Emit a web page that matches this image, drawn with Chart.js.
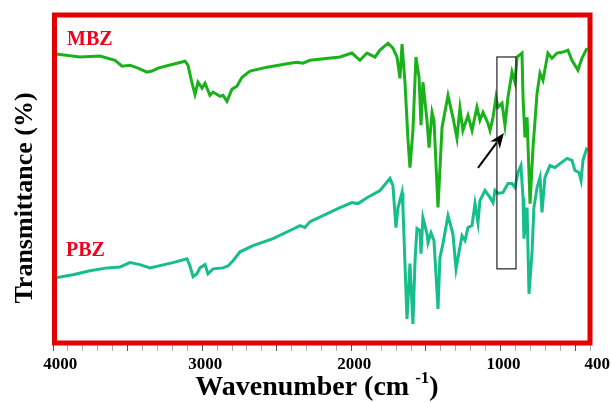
<!DOCTYPE html>
<html>
<head>
<meta charset="utf-8">
<script src="https://cdn.jsdelivr.net/npm/chart.js@4.4.0/dist/chart.umd.min.js"></script>
<style>
  html, body { margin: 0; padding: 0; background: #fff; }
</style>
</head>
<body>
<canvas id="ftirChart" width="611" height="403"></canvas>
<script>
// FTIR spectra, wavenumber in cm-1, transmittance in arbitrary %
var mbzWavenumber = [4000, 3980, 3819, 3685, 3584, 3537, 3484, 3430, 3370, 3336, 3296, 3196, 3115, 3095, 3068, 3048, 3028, 3001, 2981, 2948,
    2927, 2880, 2860, 2834, 2800, 2767, 2733, 2679, 2565, 2411, 2364, 2324, 2277, 2076, 1996, 1942, 1895, 1841, 1808, 1754,
    1721, 1694, 1674, 1660, 1640, 1620, 1607, 1587, 1567, 1546, 1533, 1520, 1493, 1479, 1459, 1446, 1419, 1392, 1352, 1319,
    1292, 1272, 1252, 1218, 1191, 1158, 1138, 1117, 1084, 1070, 1050, 1030, 1017, 990, 970, 950, 923, 903, 889, 856,
    849, 836, 822, 802, 782, 755, 735, 715, 682, 655, 621, 581, 548, 521, 481, 454, 420];
var mbzTransmittance = [88.2, 88.1, 87.2, 87.5, 86.2, 84.4, 84.7, 83.8, 82.6, 82.9, 83.8, 85.0, 85.9, 84.7, 79.2, 75.8, 79.5, 77.7, 79.2, 75.5,
    76.5, 75.2, 75.5, 73.7, 77.4, 78.3, 81.0, 82.9, 84.1, 85.3, 85.6, 85.3, 86.2, 87.2, 88.4, 86.2, 88.4, 87.2, 89.3, 91.4,
    89.9, 87.2, 80.7, 91.1, 79.2, 61.8, 53.5, 64.8, 87.2, 81.0, 66.4, 79.5, 67.9, 59.6, 70.3, 67.9, 41.3, 65.7, 75.5, 68.8,
    62.4, 71.6, 64.8, 69.4, 64.8, 71.9, 67.9, 70.3, 67.0, 64.8, 68.8, 74.9, 71.9, 73.1, 66.4, 74.9, 82.6, 79.5, 87.2, 88.4,
    74.9, 62.7, 68.8, 42.5, 59.6, 76.1, 82.3, 80.1, 88.4, 86.8, 88.4, 88.7, 89.3, 86.2, 83.2, 86.8, 89.9];

var pbzWavenumber = [4000, 3980, 3866, 3752, 3638, 3551, 3484, 3417, 3350, 3196, 3102, 3082, 3061, 3035, 3015, 2981, 2961, 2927, 2860, 2827,
    2793, 2746, 2659, 2525, 2411, 2344, 2311, 2277, 2076, 1996, 1955, 1895, 1808, 1741, 1721, 1701, 1687, 1660, 1654, 1627,
    1607, 1587, 1573, 1560, 1540, 1533, 1520, 1493, 1486, 1466, 1446, 1419, 1406, 1386, 1352, 1319, 1298, 1285, 1258, 1238,
    1218, 1191, 1171, 1151, 1138, 1104, 1070, 1050, 1037, 1017, 983, 950, 923, 903, 883, 863, 849, 843, 822, 809,
    789, 776, 755, 735, 722, 702, 668, 635, 601, 554, 521, 501, 474, 460, 447, 420];
var pbzTransmittance = [19.7, 19.9, 20.8, 22.0, 22.9, 23.2, 24.5, 23.9, 22.9, 24.5, 25.7, 23.5, 20.2, 21.1, 22.9, 23.9, 21.1, 22.6, 22.9, 23.5,
    25.1, 27.8, 29.7, 31.8, 34.3, 35.8, 35.2, 37.0, 41.3, 42.8, 42.5, 44.3, 46.5, 50.2, 48.0, 35.2, 41.3, 45.9, 41.3, 7.3,
    24.2, 5.8, 25.1, 34.9, 34.3, 27.2, 38.2, 33.3, 30.6, 33.6, 31.2, 10.4, 26.0, 30.3, 38.8, 33.3, 22.6, 26.0, 32.7, 31.2,
    35.2, 35.8, 42.5, 36.7, 43.4, 46.5, 44.3, 42.8, 46.5, 45.6, 45.9, 48.6, 48.6, 47.4, 52.0, 54.1, 44.3, 31.8, 41.3, 15.0,
    27.2, 41.3, 47.4, 50.5, 39.8, 50.5, 54.1, 53.5, 54.7, 56.3, 55.7, 52.6, 52.0, 49.5, 55.7, 59.6];

var xTickLabels = [4000, 3000, 2000, 1000, 400];

// annotations, in data units
var mbzLabelAt = [3906, 90.9];
var pbzLabelAt = [3913, 26.5];
var boxCorners = [1024, 87.2, 896, 22.6];
var arrowFrom = [1151, 53.4];
var arrowTo = [977, 64.0];

var serif = '"Liberation Serif", "Times New Roman", serif';
var frameRed = 'rgb(228, 0, 0)';
var labelRed = 'rgb(240, 0, 28)';

var toPoints = function (xs, ys) {
    var pts = [];
    for (var i = 0; i < xs.length; i++) {
        pts.push({ x: xs[i], y: ys[i] });
    }
    return pts;
};

var ftirDecor = {
    id: 'ftirDecor',
    afterDatasetsDraw: function (chart) {
        var c = chart.ctx, sx = chart.scales.x, sy = chart.scales.y, a = chart.chartArea;
        c.save();

        // box around the marked band
        var bx1 = sx.getPixelForValue(boxCorners[0]), by1 = sy.getPixelForValue(boxCorners[1]);
        var bx2 = sx.getPixelForValue(boxCorners[2]), by2 = sy.getPixelForValue(boxCorners[3]);
        c.strokeStyle = '#222';
        c.lineWidth = 1.2;
        c.strokeRect(bx1, by1, bx2 - bx1, by2 - by1);

        // arrow
        var x0 = sx.getPixelForValue(arrowFrom[0]), y0 = sy.getPixelForValue(arrowFrom[1]);
        var x1 = sx.getPixelForValue(arrowTo[0]), y1 = sy.getPixelForValue(arrowTo[1]);
        var ang = Math.atan2(y1 - y0, x1 - x0), head = 15, half = 6;
        c.strokeStyle = '#000';
        c.fillStyle = '#000';
        c.lineWidth = 2;
        c.beginPath();
        c.moveTo(x0, y0);
        c.lineTo(x1 - Math.cos(ang) * head * 0.8, y1 - Math.sin(ang) * head * 0.8);
        c.stroke();
        c.beginPath();
        c.moveTo(x1, y1);
        c.lineTo(x1 - Math.cos(ang) * head - Math.sin(ang) * half, y1 - Math.sin(ang) * head + Math.cos(ang) * half);
        c.lineTo(x1 - Math.cos(ang) * head * 0.7, y1 - Math.sin(ang) * head * 0.7);
        c.lineTo(x1 - Math.cos(ang) * head + Math.sin(ang) * half, y1 - Math.sin(ang) * head - Math.cos(ang) * half);
        c.closePath();
        c.fill();

        // sample names
        c.fillStyle = labelRed;
        c.font = 'bold 20px ' + serif;
        c.textAlign = 'left';
        c.textBaseline = 'alphabetic';
        c.fillText('MBZ', sx.getPixelForValue(mbzLabelAt[0]), sy.getPixelForValue(mbzLabelAt[1]));
        c.fillText('PBZ', sx.getPixelForValue(pbzLabelAt[0]), sy.getPixelForValue(pbzLabelAt[1]));

        // red frame
        c.strokeStyle = frameRed;
        c.lineWidth = 5;
        c.strokeRect(a.left + 1.5, a.top, a.right - a.left - 1.5, a.bottom - a.top);
        c.restore();
    },
    afterDraw: function (chart) {
        var c = chart.ctx;
        c.save();
        c.fillStyle = '#000';

        // y title
        c.translate(25, 198);
        c.rotate(-Math.PI / 2);
        c.font = 'bold 26px ' + serif;
        c.textAlign = 'center';
        c.textBaseline = 'middle';
        c.fillText('Transmittance (%)', 0, 0);
        c.setTransform(1, 0, 0, 1, 0, 0);

        // x title with superscript
        var main = 'Wavenumber (cm', sup = '-1', close = ')';
        c.textAlign = 'left';
        c.textBaseline = 'alphabetic';
        c.font = 'bold 28px ' + serif;
        var wMain = c.measureText(main).width, wClose = c.measureText(close).width;
        c.font = 'bold 17px ' + serif;
        var wSup = c.measureText(sup).width;
        var gap = 6;
        var total = wMain + gap + wSup + wClose;
        var xs = 317 - total / 2, base = 395;
        c.font = 'bold 28px ' + serif;
        c.fillText(main, xs, base);
        c.font = 'bold 17px ' + serif;
        c.fillText(sup, xs + wMain + gap, base - 12);
        c.font = 'bold 28px ' + serif;
        c.fillText(close, xs + wMain + gap + wSup, base);
        c.restore();
    }
};

var ctx = document.getElementById('ftirChart').getContext('2d');
var chart = new Chart(ctx, {
    type: 'line',
    data: {
        datasets: [{
            label: 'MBZ',
            data: toPoints(mbzWavenumber, mbzTransmittance),
            borderColor: 'rgb(26, 178, 26)',
            borderWidth: 3,
            pointRadius: 0,
            tension: 0,
            fill: false
        }, {
            label: 'PBZ',
            data: toPoints(pbzWavenumber, pbzTransmittance),
            borderColor: 'rgb(22, 190, 140)',
            borderWidth: 3,
            pointRadius: 0,
            tension: 0,
            fill: false
        }]
    },
    options: {
        responsive: false,
        animation: false,
        layout: { padding: { left: 53, right: 21, top: 15, bottom: 0 } },
        plugins: {
            legend: { display: false },
            tooltip: { enabled: false }
        },
        scales: {
            x: {
                type: 'linear',
                reverse: true,
                min: 400,
                max: 4000,
                afterFit: function (s) { s.height = 60; },
                border: { display: false },
                grid: {
                    drawOnChartArea: false,
                    drawTicks: true,
                    tickLength: 8,
                    tickWidth: 1,
                    tickColor: function (c) {
                        return (c.tick && c.tick.value % 500 === 0) ? '#555' : '#aaa';
                    }
                },
                ticks: {
                    stepSize: 100,
                    autoSkip: false,
                    maxRotation: 0,
                    padding: 3,
                    labelOffset: 3,
                    color: '#000',
                    font: { family: serif, size: 17, weight: 'bold' },
                    callback: function (value) {
                        if (xTickLabels.indexOf(value) < 0) return '';
                        return (value === 4000 || value === 400) ? '\u2002' + value : String(value);
                    }
                }
            },
            y: { display: false, min: 0, max: 100 }
        }
    },
    plugins: [ftirDecor]
});
</script>
</body>
</html>
